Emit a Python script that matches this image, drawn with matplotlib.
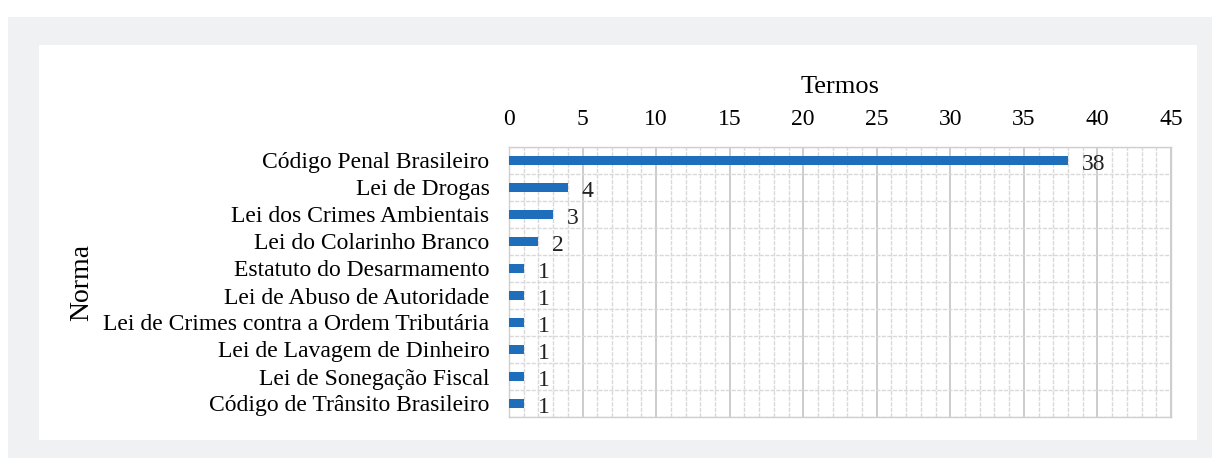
import matplotlib
matplotlib.use("Agg")
import matplotlib.pyplot as plt
from matplotlib.patches import Rectangle
from matplotlib.ticker import MultipleLocator

normas = [
    "Código Penal Brasileiro",
    "Lei de Drogas",
    "Lei dos Crimes Ambientais",
    "Lei do Colarinho Branco",
    "Estatuto do Desarmamento",
    "Lei de Abuso de Autoridade",
    "Lei de Crimes contra a Ordem Tributária",
    "Lei de Lavagem de Dinheiro",
    "Lei de Sonegação Fiscal",
    "Código de Trânsito Brasileiro",
]
termos = [38, 4, 3, 2, 1, 1, 1, 1, 1, 1]

plt.rcParams['font.family'] = ['Liberation Serif', 'DejaVu Serif']

W, H = 1212, 458
fig = plt.figure(figsize=(W / 100, H / 100), dpi=100)
fig.patch.set_facecolor('white')

# gray frame and white card behind the chart
fig.patches.append(Rectangle((8 / W, 0), 1, (H - 17) / H, transform=fig.transFigure,
                             facecolor='#f0f1f3', edgecolor='none', zorder=-2))
fig.patches.append(Rectangle((39 / W, (H - 440) / H), (1197 - 39) / W, (440 - 45) / H,
                             transform=fig.transFigure, facecolor='white',
                             edgecolor='none', zorder=-1))

ax = fig.add_axes([509 / W, (H - 417) / H, (1171 - 509) / W, (417 - 147) / H])
ax.set_facecolor('white')

y = list(range(len(normas)))
ax.barh(y, termos, height=0.33, color='#1f6ebc', zorder=3)
for yi, v in zip(y, termos):
    ax.annotate(str(v), (v, yi), xytext=(10, -3), textcoords='offset points',
                va='center', ha='left', fontsize=17, color='#222222')

ax.set_xlim(0, 45)
ax.set_ylim(len(normas) - 0.5, -0.5)
ax.xaxis.set_major_locator(MultipleLocator(5))
ax.xaxis.set_minor_locator(MultipleLocator(1))
ax.set_yticks(y)
ax.set_yticklabels(normas, fontsize=17)
ax.set_yticks([i + 0.5 for i in range(-1, len(normas))], minor=True)

ax.xaxis.tick_top()
ax.xaxis.set_label_position('top')
ax.tick_params(axis='x', which='both', length=0, labelsize=17, pad=12)
ax.tick_params(axis='y', which='both', length=0, pad=14)
ax.set_xlabel('Termos', fontsize=19, labelpad=12)
ax.set_ylabel('Norma', fontsize=20, labelpad=7)

ax.grid(axis='x', which='major', color='#c4c4c4', linewidth=1.2, zorder=0)
ax.grid(axis='x', which='minor', color='#d9d9d9', linewidth=1.0, linestyle=(0, (3, 1)), zorder=0)
ax.grid(axis='y', which='minor', color='#d9d9d9', linewidth=1.0, linestyle=(0, (3, 1)), zorder=0)
ax.grid(axis='y', which='major', visible=False)
for s in ax.spines.values():
    s.set_color('#cfcfcf')
    s.set_linewidth(1.0)

fig.savefig('out.png', dpi=100, facecolor='white')
